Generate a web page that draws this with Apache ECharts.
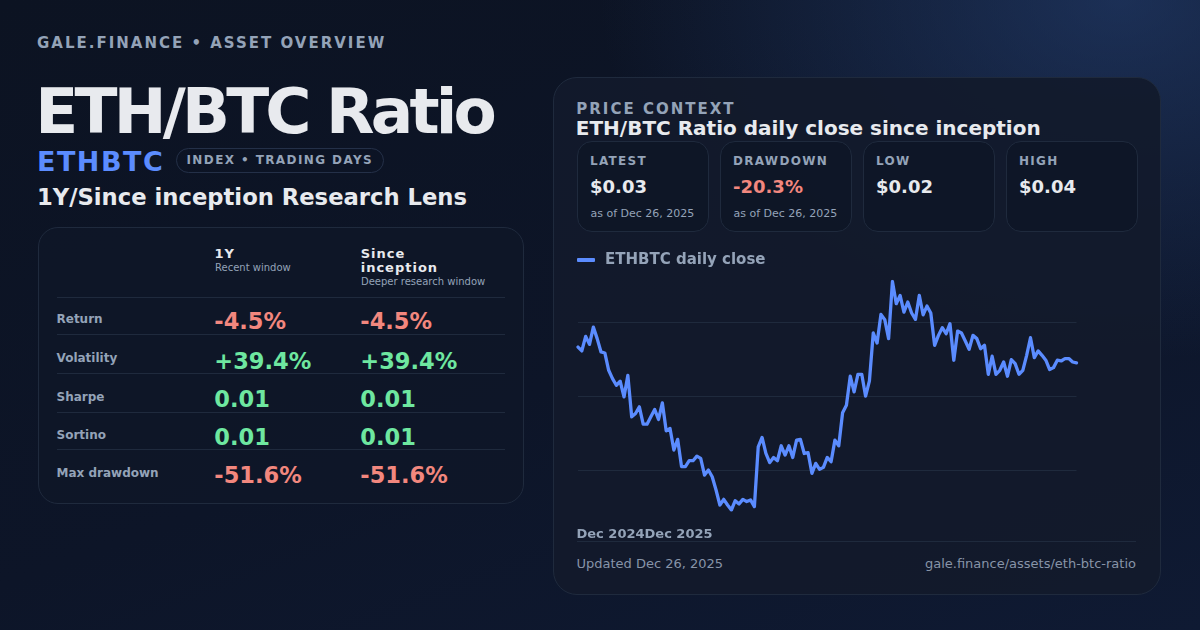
<!DOCTYPE html>
<html>
<head>
<meta charset="utf-8">
<script src="https://cdn.jsdelivr.net/npm/echarts@6/dist/echarts.min.js"></script>
<style>
  html, body { margin:0; padding:0; }
  body {
    width:1200px; height:630px; overflow:hidden; position:relative;
    font-family:"DejaVu Sans", sans-serif;
    background:
      radial-gradient(ellipse 520px 360px at 1120px 0px, rgba(40,70,125,0.55), rgba(20,35,70,0) 100%),
      linear-gradient(160deg, #0c1322 0%, #0d1528 55%, #0f1a33 100%);
    color:#e5e7eb;
  }
  .abs { position:absolute; white-space:nowrap; }
  .eyebrow { left:37px; top:35.8px; font-size:15px; line-height:15px; font-weight:bold; letter-spacing:2px; color:#94a3b8; }
  .title { left:35.3px; top:80.3px; font-size:63px; line-height:63px; font-weight:bold; letter-spacing:-0.06em; color:#e8eaee; }
  .ticker { left:37px; top:147.8px; font-size:27px; line-height:27px; font-weight:bold; letter-spacing:1.5px; color:#5b8cff; }
  .pill { left:175.5px; top:148.3px; height:23px; padding:0 10px; border:1px solid #243048; border-radius:13px;
          font-size:12px; line-height:23px; font-weight:bold; letter-spacing:1.4px; color:#94a3b8; }
  .subtitle { left:37px; top:185.8px; font-size:22.7px; line-height:22.7px; font-weight:bold; color:#e8eaee; }
  .tcard { left:38px; top:227px; width:484px; height:275px; border:1px solid #1f2a3d; border-radius:20px; background:rgba(15,22,40,0.85); }
  .hdr { font-size:13px; line-height:14px; font-weight:bold; letter-spacing:1px; color:#e8eaee; }
  .hsub { font-size:10px; line-height:10px; color:#94a3b8; }
  .sep { position:absolute; height:1px; background:#1f2a3d; }
  .rlabel { font-size:12px; line-height:12px; font-weight:bold; color:#94a3b8; }
  .val { font-size:22.5px; line-height:22.5px; font-weight:bold; }
  .neg { color:#f2877e; }
  .pos { color:#6ee7a0; }
  .rcard { left:553px; top:77px; width:606px; height:516px; border:1px solid #1f2a3d; border-radius:24px; background:rgba(18,26,43,0.92); }
  .rk { left:576.3px; top:102.3px; font-size:15px; line-height:15px; font-weight:bold; letter-spacing:2px; color:#94a3b8; }
  .rtitle { left:575.8px; top:118.1px; font-size:20px; line-height:20px; font-weight:bold; color:#e8eaee; }
  .scard { position:absolute; top:141px; width:130px; height:89px; border:1px solid #1f2a3d; border-radius:15px; background:rgba(14,21,37,0.75); }
  .slabel { position:absolute; left:12px; top:12.7px; font-size:12px; line-height:12px; font-weight:bold; letter-spacing:1.3px; color:#94a3b8; white-space:nowrap; }
  .svalue { position:absolute; left:12px; top:35.6px; font-size:18px; line-height:18px; font-weight:bold; color:#e8eaee; white-space:nowrap; }
  .sasof { position:absolute; left:12.5px; top:65.5px; font-size:11px; line-height:11px; color:#94a3b8; white-space:nowrap; }
  .xlab { left:576.5px; top:527px; font-size:13px; line-height:13px; font-weight:bold; color:#94a3b8; }
  .foot { top:557px; font-size:13px; line-height:13px; color:#8794a8; }
  #chart { position:absolute; left:565px; top:240px; width:530px; height:300px; }
</style>
</head>
<body>
<div class="abs eyebrow">GALE.FINANCE • ASSET OVERVIEW</div>
<div class="abs title">ETH/BTC Ratio</div>
<div class="abs ticker">ETHBTC</div>
<div class="abs pill">INDEX • TRADING DAYS</div>
<div class="abs subtitle">1Y/Since inception Research Lens</div>

<div class="abs tcard"></div>
<div id="table"></div>

<div class="abs rcard"></div>
<div class="abs rk">PRICE CONTEXT</div>
<div class="abs rtitle">ETH/BTC Ratio daily close since inception</div>
<div id="stats"></div>

<div id="chart"></div>
<div class="abs xlab"><span id="xl0"></span><span id="xl1"></span></div>
<div class="sep" style="left:577px; top:541px; width:559px;"></div>
<div class="abs foot" style="left:576.5px;">Updated Dec 26, 2025</div>
<div class="abs foot" style="right:64px;">gale.finance/assets/eth-btc-ratio</div>

<script>
// ---- data ----
const seriesName = "ETHBTC daily close";
const xTickLabels = ["Dec 2024", "Dec 2025"];
const ratioClose = [
  0.03331,0.03305,0.03403,0.03349,0.03466,0.03388,0.03298,0.03291,0.03174,0.03118,
  0.03073,0.03100,0.02994,0.03140,0.02860,0.02882,0.02927,0.02810,0.02810,0.02860,
  0.02909,0.02842,0.02954,0.02765,0.02781,0.02635,0.02707,0.02523,0.02523,0.02563,
  0.02563,0.02594,0.02579,0.02466,0.02500,0.02455,0.02365,0.02264,0.02302,0.02264,
  0.02230,0.02293,0.02271,0.02302,0.02287,0.02298,0.02253,0.02657,0.02720,0.02612,
  0.02550,0.02585,0.02563,0.02664,0.02601,0.02664,0.02585,0.02702,0.02707,0.02612,
  0.02617,0.02478,0.02545,0.02505,0.02518,0.02585,0.02556,0.02702,0.02664,0.02887,
  0.02938,0.03134,0.03028,0.03147,0.03147,0.02999,0.03102,0.03426,0.03358,0.03552,
  0.03516,0.03388,0.03774,0.03624,0.03680,0.03567,0.03635,0.03561,0.03518,0.03680,
  0.03549,0.03608,0.03561,0.03343,0.03410,0.03462,0.03421,0.03489,0.03242,0.03439,
  0.03426,0.03372,0.03316,0.03410,0.03388,0.03320,0.03343,0.03147,0.03269,0.03147,
  0.03174,0.03230,0.03134,0.03246,0.03219,0.03147,0.03174,0.03275,0.03394,0.03260,
  0.03305,0.03275,0.03242,0.03179,0.03192,0.03242,0.03237,0.03253,0.03253,0.03230,
  0.03224
];
const metricNames = ["Return", "Volatility", "Sharpe", "Sortino", "Max drawdown"];
const oneYear = ["-4.5%", "+39.4%", "0.01", "0.01", "-51.6%"];
const sinceInception = ["-4.5%", "+39.4%", "0.01", "0.01", "-51.6%"];
const statLabels = ["LATEST", "DRAWDOWN", "LOW", "HIGH"];
const statValues = ["$0.03", "-20.3%", "$0.02", "$0.04"];
const statNotes = ["as of Dec 26, 2025", "as of Dec 26, 2025", "", ""];

// ---- table ----
(function(){
  const t = document.getElementById('table');
  let h = '';
  h += '<div class="abs hdr" style="left:214.5px; top:246.5px;">1Y</div>';
  h += '<div class="abs hsub" style="left:215px; top:263.3px;">Recent window</div>';
  h += '<div class="abs hdr" style="left:360.7px; top:246.5px;">Since<br>inception</div>';
  h += '<div class="abs hsub" style="left:361px; top:277.3px;">Deeper research window</div>';
  h += '<div class="sep" style="left:57px; top:297px; width:448px;"></div>';
  const labelC = [319, 357.7, 396.7, 435, 472.7];
  const valC = [321.2, 360.3, 398.3, 436.7, 474.8];
  const seps = [334, 373, 411.5, 449];
  metricNames.forEach((m, i) => {
    h += '<div class="abs rlabel" style="left:56.5px; top:' + (labelC[i] - 5.8) + 'px;">' + m + '</div>';
    const c1 = /^-/.test(oneYear[i]) ? 'neg' : 'pos';
    const c2 = /^-/.test(sinceInception[i]) ? 'neg' : 'pos';
    h += '<div class="abs val ' + c1 + '" style="left:214.3px; top:' + (valC[i] - 10.8) + 'px;">' + oneYear[i] + '</div>';
    h += '<div class="abs val ' + c2 + '" style="left:360.3px; top:' + (valC[i] - 10.8) + 'px;">' + sinceInception[i] + '</div>';
    if (i < seps.length) h += '<div class="sep" style="left:57px; top:' + seps[i] + 'px; width:448px;"></div>';
  });
  t.innerHTML = h;
})();

// ---- stat cards ----
(function(){
  const s = document.getElementById('stats');
  const lefts = [577, 720, 863, 1006];
  let h = '';
  statLabels.forEach((l, i) => {
    const col = /^-/.test(statValues[i]) ? 'color:#f2877e;' : '';
    h += '<div class="scard" style="left:' + lefts[i] + 'px;">' +
         '<div class="slabel">' + l + '</div>' +
         '<div class="svalue" style="' + col + '">' + statValues[i] + '</div>' +
         (statNotes[i] ? '<div class="sasof">' + statNotes[i] + '</div>' : '') +
         '</div>';
  });
  s.innerHTML = h;
  document.getElementById('xl0').textContent = xTickLabels[0];
  document.getElementById('xl1').textContent = xTickLabels[1];
})();

// ---- chart ----
const chart = echarts.init(document.getElementById('chart'), null, { renderer: 'canvas' });
chart.setOption({
  animation: false,
  backgroundColor: 'transparent',
  textStyle: { fontFamily: 'DejaVu Sans' },
  legend: {
    data: [seriesName],
    left: 12, top: 12.5, padding: 0,
    icon: 'roundRect', itemWidth: 18, itemHeight: 4,
    textStyle: { color: '#94a3b8', fontSize: 15, fontWeight: 'bold', fontFamily: 'DejaVu Sans', padding: [0, 0, 0, 5] }
  },
  grid: { left: 13, right: 18.5, top: 41.5, bottom: 30, containLabel: false },
  xAxis: {
    type: 'category',
    data: ratioClose.map((_, i) => i),
    boundaryGap: false,
    axisLine: { show: false }, axisTick: { show: false }, axisLabel: { show: false },
    splitLine: { show: false }
  },
  yAxis: {
    type: 'value',
    min: 'dataMin', max: 'dataMax',
    splitNumber: 3,
    axisLine: { show: false }, axisTick: { show: false }, axisLabel: { show: false },
    splitLine: { show: true, showMinLine: false, showMaxLine: false, lineStyle: { color: '#1f2a3d', width: 1 } }
  },
  series: [{
    name: seriesName,
    type: 'line',
    data: ratioClose,
    showSymbol: false,
    symbol: 'none',
    lineStyle: { color: '#5b8cff', width: 3.3, join: 'round', cap: 'round' },
    itemStyle: { color: '#5b8cff' }
  }]
});
</script>
</body>
</html>
